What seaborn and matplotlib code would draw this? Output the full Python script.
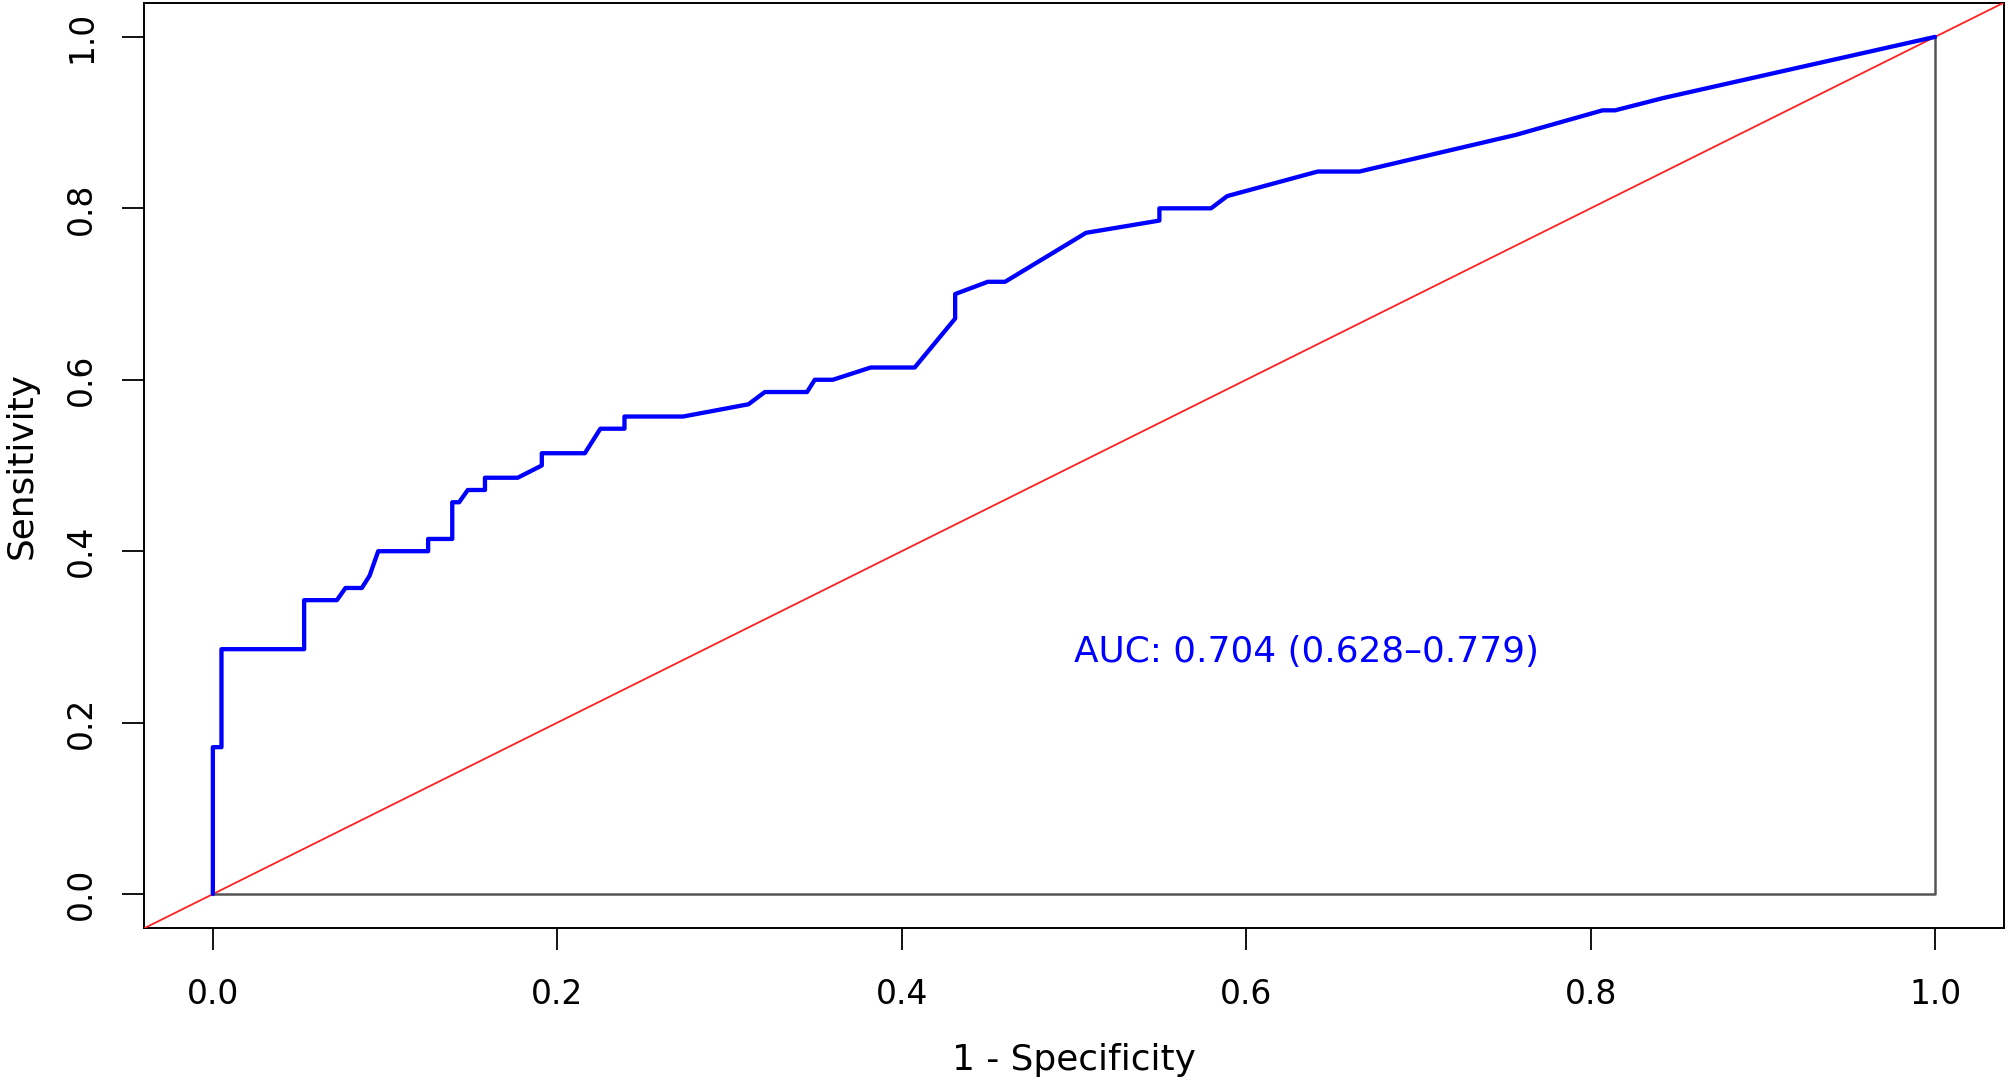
import matplotlib
matplotlib.use("Agg")
import matplotlib.pyplot as plt
import seaborn as sns
import pandas as pd

# ROC curve points (1 - specificity, sensitivity)
fpr = [0, 0, 0.005, 0.005, 0.053, 0.053, 0.072, 0.077, 0.0865, 0.091, 0.096,
       0.125, 0.125, 0.139, 0.139, 0.143, 0.148, 0.158, 0.158, 0.177, 0.191,
       0.191, 0.216, 0.225, 0.239, 0.239, 0.273, 0.311, 0.3205, 0.345, 0.3495,
       0.360, 0.382, 0.4075, 0.431, 0.431, 0.450, 0.460, 0.507, 0.5496, 0.5496,
       0.5796, 0.589, 0.6415, 0.6657, 0.7566, 0.8069, 0.8142, 0.842, 1.0]
tpr = [0, 0.1714, 0.1714, 0.2857, 0.2857, 0.3429, 0.3429, 0.3571, 0.3571, 0.3714,
       0.4, 0.4, 0.4143, 0.4143, 0.4571, 0.4571, 0.4714, 0.4714, 0.4857, 0.4857,
       0.5, 0.5143, 0.5143, 0.5429, 0.5429, 0.5571, 0.5571, 0.5714, 0.5857,
       0.5857, 0.6, 0.6, 0.6143, 0.6143, 0.6714, 0.7, 0.7143, 0.7143, 0.7714,
       0.7857, 0.8, 0.8, 0.8143, 0.8429, 0.8429, 0.8857, 0.9143, 0.9143, 0.9286, 1.0]

frame_x = [0, 1, 1]
frame_y = [0, 0, 1]

ticks = [0.0, 0.2, 0.4, 0.6, 0.8, 1.0]
tick_labels = ["0.0", "0.2", "0.4", "0.6", "0.8", "1.0"]
auc_label = "AUC: 0.704 (0.628\u20130.779)"

sns.set_style("ticks")
plt.rcParams['font.family'] = ['DejaVu Sans']
plt.rcParams['text.color'] = 'black'
plt.rcParams['axes.labelcolor'] = 'black'

fig = plt.figure(figsize=(20.08, 10.79), dpi=100)
ax = fig.add_axes([0.0717, 0.1396, 0.9263, 0.858])

df = pd.DataFrame({"fpr": fpr, "tpr": tpr})
frame_df = pd.DataFrame({"x": frame_x, "y": frame_y})

sns.lineplot(data=frame_df, x="x", y="y", sort=False, estimator=None,
             color="#555555", linewidth=1.8, ax=ax, zorder=2)
ax.axline((0, 0), slope=1, color="#FF2020", linewidth=1.3, zorder=3)
sns.lineplot(data=df, x="fpr", y="tpr", sort=False, estimator=None,
             color="#0000FF", linewidth=3.1, ax=ax, zorder=4)

ax.text(0.5, 0.282, auc_label, color="#0000FF", fontsize=25.8,
        ha="left", va="center")

ax.set_xlim(-0.04, 1.04)
ax.set_ylim(-0.04, 1.04)
ax.set_xticks(ticks)
ax.set_xticklabels(tick_labels)
ax.set_yticks(ticks)
ax.set_yticklabels(tick_labels, rotation=90, va="center")
ax.tick_params(axis="both", direction="out", length=16, width=1.3,
               labelsize=23.8, colors="black")
ax.tick_params(axis="x", pad=20)
ax.tick_params(axis="y", pad=17)
for s in ax.spines.values():
    s.set_visible(True)
    s.set_color("black")
    s.set_linewidth(1.4)

ax.set_xlabel("1 - Specificity", fontsize=25.8, labelpad=23, color="black")
ax.set_ylabel("Sensitivity", fontsize=25.8, labelpad=19, color="black")

fig.savefig("out.png", dpi=100)
